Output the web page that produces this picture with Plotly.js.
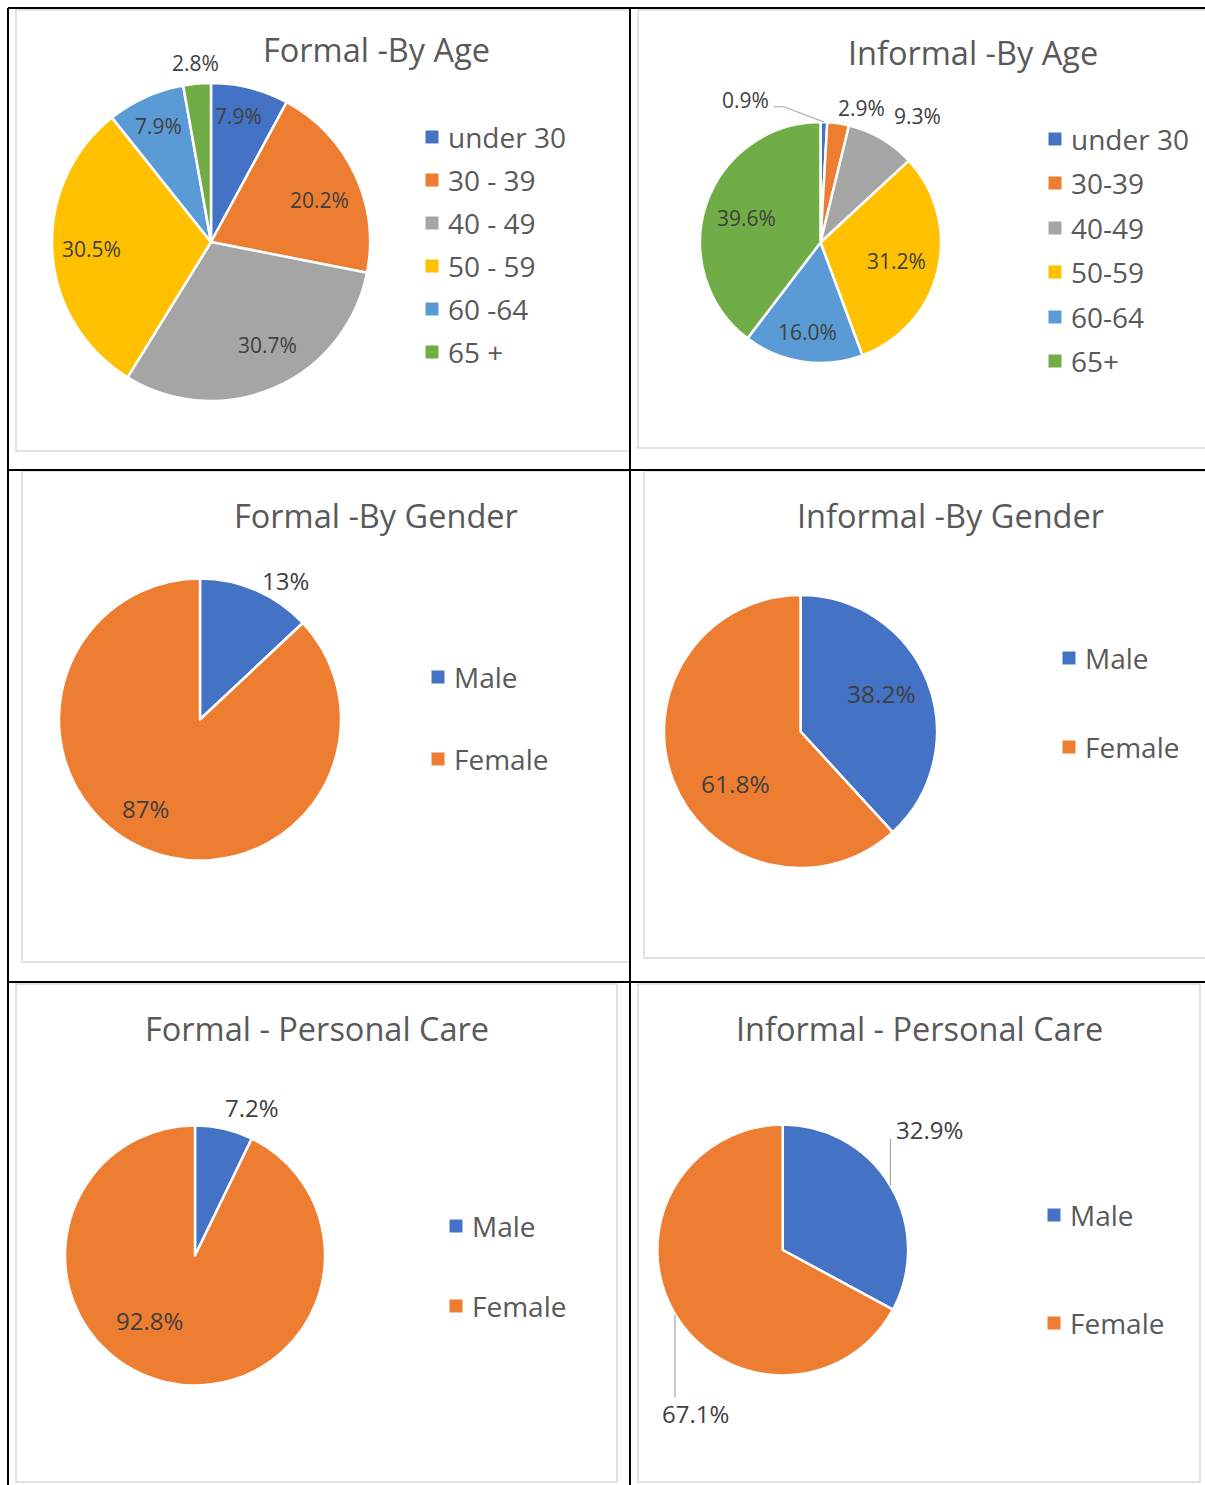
<!DOCTYPE html>
<html>
<head>
<meta charset="utf-8">
<script src="https://cdn.plot.ly/plotly-3.0.1.min.js"></script>
<style>html,body{margin:0;padding:0;background:#fff;}#chart{width:1205px;height:1485px;}</style>
</head>
<body>
<div id="chart"></div>
<script>
// ---------- DATA ----------
const formalAgeLabels = ['under 30', '30 - 39', '40 - 49', '50 - 59', '60 -64', '65 +'];
const formalAgeValues = [7.9, 20.2, 30.7, 30.5, 7.9, 2.8];
const informalAgeLabels = ['under 30', '30-39', '40-49', '50-59', '60-64', '65+'];
const informalAgeValues = [0.9, 2.9, 9.3, 31.2, 16.0, 39.6];
const genderLabels = ['Male', 'Female'];
const formalGenderValues = [13, 87];
const informalGenderValues = [38.2, 61.8];
const formalCareValues = [7.2, 92.8];
const informalCareValues = [32.9, 67.1];
const titles = ['Formal -By Age', 'Informal -By Age', 'Formal -By Gender', 'Informal -By Gender',
                'Formal - Personal Care', 'Informal - Personal Care'];
const palette = ['#4472C4', '#ED7D31', '#A5A5A5', '#FFC000', '#5B9BD5', '#70AD47'];

// ---------- LAYOUT / STYLE ----------
const W = 1205, H = 1485;
const px = x => x / W;
const py = y => 1 - y / H;
const FONT = '"Open Sans", "Liberation Sans", sans-serif';

// label placement styles: k = radius factor, d = angle shift (deg); lead = leader-line label
const panels = [
  {title: titles[0], labels: formalAgeLabels, values: formalAgeValues, dec: 1,
   cx: 211, cy: 242, r: 159, tx: 376, ty: 50, lx: 432, ly: [137, 180, 223, 266, 309, 352], lf: 21,
   lab: [{k: .81, d: -2}, {k: .73, d: 4}, {k: .74, d: -5}, {k: .755, d: 0}, {k: .80, d: 0}, {k: 1.13, d: 0}]},
  {title: titles[1], labels: informalAgeLabels, values: informalAgeValues, dec: 1,
   cx: 820.5, cy: 242.5, r: 120.5, tx: 973, ty: 52, lx: 1055, ly: [139, 183, 228, 272, 317, 361], lf: 21,
   lab: [{lead: {pts: [[0, 0], [-40, -15.3], [-50, -15.3]], tdx: -53, tdy: -22.5, anchor: 'right'}},
         {k: 1.17, d: 8.6}, {k: 1.32, d: 7}, {k: .65, d: 0}, {k: .755, d: 0}, {k: .645, d: 0}]},
  {title: titles[2], labels: genderLabels, values: formalGenderValues, dec: 0,
   cx: 200, cy: 719.5, r: 141, tx: 376, ty: 515, lx: 438, ly: [677, 759], lf: 24,
   lab: [{k: 1.16, d: 8.3}, {k: .74, d: 8.3}]},
  {title: titles[3], labels: genderLabels, values: informalGenderValues, dec: 1,
   cx: 800.5, cy: 731.5, r: 136.5, tx: 950, ty: 515, lx: 1069, ly: [658, 747], lf: 24.5,
   lab: [{k: .66, d: -4}, {k: .61, d: -17.5}]},
  {title: titles[4], labels: genderLabels, values: formalCareValues, dec: 1,
   cx: 195, cy: 1255.5, r: 130, tx: 317, ty: 1028, lx: 456, ly: [1226, 1306], lf: 24,
   lab: [{k: 1.22, d: 8}, {k: .61, d: 21.7}]},
  {title: titles[5], labels: genderLabels, values: informalCareValues, dec: 1,
   cx: 782.7, cy: 1250, r: 125.4, tx: 920, ty: 1028, lx: 1054, ly: [1215, 1323], lf: 24,
   lab: [{lead: {pts: [[0, 0], [0, -47]], tdx: 3.8, tdy: -56, anchor: 'left'}},
         {lead: {pts: [[0, 0], [0, 83]], tdx: -15, tdy: 99.5, anchor: 'left'}}]}
];

const traces = [];
const annotations = [];
const shapes = [];

// chart boxes (light gray)
const boxes = [[16, 10, 630, 451], [638, 10, 1210, 448], [22, 471, 630, 962],
               [644, 471, 1210, 958], [16, 984, 617, 1482], [638, 984, 1200, 1482]];
boxes.forEach(b => shapes.push({type: 'rect', xref: 'paper', yref: 'paper',
  x0: px(b[0]), x1: px(b[2]), y0: py(b[3]), y1: py(b[1]),
  line: {color: '#D9D9D9', width: 1.5}, fillcolor: 'rgba(0,0,0,0)', layer: 'below'}));

// table lines (black)
const tableLines = [[8, 8, 1205, 8], [8, 470, 1205, 470], [8, 982, 1205, 982],
                    [8, 8, 8, 1485], [630, 8, 630, 1485]];
tableLines.forEach(l => shapes.push({type: 'line', xref: 'paper', yref: 'paper',
  x0: px(l[0]), x1: px(l[2]), y0: py(l[1]), y1: py(l[3]),
  line: {color: '#000', width: 2}}));

panels.forEach((p, i) => {
  traces.push({
    type: 'pie', labels: p.labels, values: p.values, sort: false,
    direction: 'clockwise', rotation: 0,
    domain: {x: [px(p.cx - p.r), px(p.cx + p.r)], y: [py(p.cy + p.r), py(p.cy - p.r)]},
    marker: {colors: palette.slice(0, p.labels.length), line: {color: '#FFFFFF', width: 2.5}},
    textinfo: 'none', showlegend: false, hoverinfo: 'label+percent'
  });
  // title
  annotations.push({xref: 'paper', yref: 'paper', x: px(p.tx), y: py(p.ty),
    xanchor: 'center', yanchor: 'middle', showarrow: false, text: p.title,
    font: {family: FONT, size: 32.5, color: '#595959'}});
  // data labels (positions derived from the slice angles)
  const total = p.values.reduce((a, b) => a + b, 0);
  let cum = 0;
  p.values.forEach((v, k) => {
    const mid = 360 * (cum + v / 2) / total;
    cum += v;
    const txt = v.toFixed(p.dec) + '%';
    const s = p.lab[k];
    const lf = {family: FONT, size: p.lf, color: '#404040'};
    if (s.lead) {
      const th = mid * Math.PI / 180;
      const P = [p.cx + p.r * Math.sin(th), p.cy - p.r * Math.cos(th)];
      const path = s.lead.pts.map((q, j) => (j ? 'L' : 'M') + px(P[0] + q[0]) + ',' + py(P[1] + q[1])).join(' ');
      shapes.push({type: 'path', xref: 'paper', yref: 'paper', path: path,
        line: {color: '#A6A6A6', width: 1.2}});
      annotations.push({xref: 'paper', yref: 'paper', x: px(P[0] + s.lead.tdx), y: py(P[1] + s.lead.tdy),
        xanchor: s.lead.anchor, yanchor: 'middle', showarrow: false, text: txt, font: lf});
    } else {
      const th = (mid + s.d) * Math.PI / 180;
      annotations.push({xref: 'paper', yref: 'paper',
        x: px(p.cx + s.k * p.r * Math.sin(th)), y: py(p.cy - s.k * p.r * Math.cos(th)),
        xanchor: 'center', yanchor: 'middle', showarrow: false, text: txt, font: lf});
    }
  });
  // legend
  p.labels.forEach((lab, k) => {
    const yy = p.ly[k];
    shapes.push({type: 'rect', xref: 'paper', yref: 'paper',
      x0: px(p.lx - 6.5), x1: px(p.lx + 6.5), y0: py(yy + 6.5), y1: py(yy - 6.5),
      fillcolor: palette[k], line: {width: 0}});
    annotations.push({xref: 'paper', yref: 'paper', x: px(p.lx + 14), y: py(yy),
      xanchor: 'left', yanchor: 'middle', showarrow: false, text: lab,
      font: {family: FONT, size: 28, color: '#595959'}});
  });
});

const layout = {
  width: W, height: H, margin: {l: 0, r: 0, t: 0, b: 0},
  paper_bgcolor: '#FFFFFF', plot_bgcolor: '#FFFFFF',
  shapes: shapes, annotations: annotations, showlegend: false,
  font: {family: FONT, color: '#595959'}
};

Plotly.newPlot('chart', traces, layout, {displayModeBar: false, staticPlot: true});
</script>
</body>
</html>
